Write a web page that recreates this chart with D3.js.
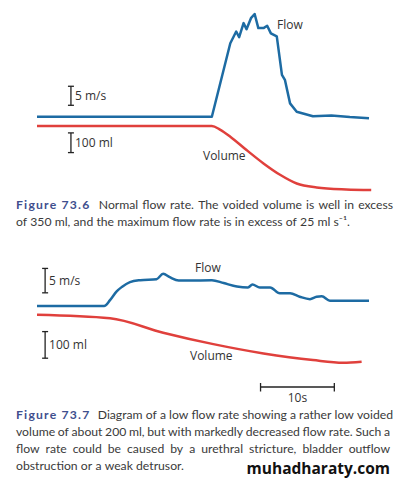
<!DOCTYPE html>
<html>
<head>
<script src="https://d3js.org/d3.v7.min.js"></script>
<style>
  body { margin: 0; background: #fff; }
  text { font-family: "Open Sans", sans-serif; }
</style>
</head>
<body>
<svg width="397" height="481"></svg>
<script>
// ---- data: time in seconds, flow in ml/s, voided volume in ml ----
const flow1T = [0, 23.7, 26.2, 27.0, 27.4, 28.0, 28.4, 29.0, 29.5, 30.0, 30.7, 31.2, 31.7, 32.5, 33.2, 33.6, 34.3, 35.2, 37.4, 39.9, 42.4, 45];
const flow1V = [0, 0, 19.3, 22.4, 20.9, 24.6, 23.0, 25.9, 27.0, 23.3, 23.3, 23.9, 21.9, 21.1, 11.0, 9.7, 3.5, 1.3, 0.1, 0.3, -0.1, -0.4];
const vol1T = [0, 23.7, 24.8, 26.2, 28.4, 30.7, 33.0, 35.2, 37.9, 41.9, 45.3];
const vol1V = [0, 0, 18, 54, 122, 190, 249, 292, 312, 322, 325];

const flow2T = [0, 9.1, 9.9, 10.8, 11.5, 12.6, 14.0, 16.2, 17.1, 18.0, 19.2, 23.7, 25.3, 27.1, 28.6, 29.2, 30.2, 31.6, 32.9, 34.3, 35.6, 37.0, 37.9, 38.6, 39.7, 41.5, 45];
const flow2V = [0, 0, 1.2, 3.0, 3.9, 4.9, 5.3, 5.5, 6.6, 5.9, 5.2, 5.3, 4.7, 4.0, 3.8, 4.4, 3.8, 3.8, 2.6, 2.6, 1.9, 1.4, 1.9, 2.0, 1.1, 1.1, 1.1];
const vol2T = [0, 9.9, 17.1, 23.9, 30.7, 37.4, 41.5, 44.0];
const vol2V = [-13, 0, 54, 97, 132, 157, 167, 163];

const caption1 = [
  "Normal flow rate. The voided volume is well in excess",
  "of 350 ml, and the maximum flow rate is in excess of 25 ml s\u207B\u00B9."
];
const caption2 = [
  "Diagram of a low flow rate showing a rather low voided",
  "volume of about 200 ml, but with markedly decreased flow rate. Such a",
  "flow rate could be caused by a urethral stricture, bladder outflow",
  "obstruction or a weak detrusor."
];

const svg = d3.select('svg');
const blue = '#1d6ba3', red = '#e0403c', ink = '#333';

const x = d3.scaleLinear().domain([0, 45]).range([37, 369]);

// chart 1 scales
const yF1 = d3.scaleLinear().domain([0, 27]).range([116.7, 14]);
const yV1 = d3.scaleLinear().domain([0, 100]).range([126, 145.7]);
// chart 2 scales
const yF2 = d3.scaleLinear().domain([0, 5]).range([306, 281.6]);
const yV2 = d3.scaleLinear().domain([0, 100]).range([318.3, 344.9]);

const drawLine = (ts, vs, yScale, color, curve) => {
  svg.append('path')
    .datum(d3.zip(ts, vs))
    .attr('fill', 'none')
    .attr('stroke', color)
    .attr('stroke-width', 2.5)
    .attr('stroke-linejoin', 'round')
    .attr('d', d3.line().x(d => x(d[0])).y(d => yScale(d[1])).curve(curve));
};

drawLine(flow1T, flow1V, yF1, blue, d3.curveLinear);
drawLine(vol1T, vol1V, yV1, red, d3.curveMonotoneX);
drawLine(flow2T, flow2V, yF2, blue, d3.curveMonotoneX);
drawLine(vol2T, vol2V, yV2, red, d3.curveMonotoneX);

// vertical scale bars
const vBar = (t, y0, y1, label) => {
  const g = svg.append('g').attr('stroke', '#222').attr('stroke-width', 1.3);
  const px = x(t);
  g.append('line').attr('x1', px).attr('x2', px).attr('y1', y0).attr('y2', y1);
  g.append('line').attr('x1', px - 3).attr('x2', px + 3).attr('y1', y0).attr('y2', y0);
  g.append('line').attr('x1', px - 3).attr('x2', px + 3).attr('y1', y1).attr('y2', y1);
  svg.append('text').attr('x', px + 4).attr('y', (y0 + y1) / 2 + 4.5)
    .attr('font-size', 12).attr('fill', ink).text(label);
};
vBar(4.6, yF1(8), yF1(3), '5 m/s');
vBar(4.6, yV1(35), yV1(135), '100 ml');
vBar(1.1, yF2(7.7), yF2(2.7), '5 m/s');
vBar(1.1, yV2(50), yV2(150), '100 ml');

// 10 s time bar
const tb = svg.append('g').attr('stroke', '#222').attr('stroke-width', 1.3);
tb.append('line').attr('x1', x(30.3)).attr('x2', x(40.3)).attr('y1', 387).attr('y2', 387);
tb.append('line').attr('x1', x(30.3)).attr('x2', x(30.3)).attr('y1', 383).attr('y2', 391.5);
tb.append('line').attr('x1', x(40.3)).attr('x2', x(40.3)).attr('y1', 383).attr('y2', 391.5);
svg.append('text').attr('x', x(35.3)).attr('y', 402).attr('text-anchor', 'middle')
  .attr('font-size', 12).attr('fill', ink).text('10s');

// series labels
const label = (px, py, s) => svg.append('text').attr('x', px).attr('y', py)
  .attr('font-size', 12).attr('fill', ink).text(s);
label(277, 29, 'Flow');
label(203, 160, 'Volume');
label(195, 272, 'Flow');
label(190, 360, 'Volume');

// captions, justified word by word
const capFont = 'Lato, "Open Sans", sans-serif';
const justify = (y, words, last, head) => {
  const items = [];
  if (head) items.push({ s: head, bold: true });
  words.split(' ').forEach(w => items.push({ s: w, bold: false }));
  const nodes = items.map(it => {
    const t = svg.append('text').attr('y', y).attr('font-size', 12.2)
      .style('font-family', capFont).text(it.s);
    if (it.bold) t.attr('font-weight', 'bold').attr('fill', '#3f4f8e').attr('letter-spacing', 1.2);
    else t.attr('fill', '#3a3a3a');
    return t;
  });
  const widths = nodes.map(n => n.node().getComputedTextLength() + (+n.attr('letter-spacing') || 0));
  const total = d3.sum(widths);
  let gap = last ? 3.2 : (374 - total) / (nodes.length - 1);
  let cx = 16;
  nodes.forEach((n, i) => {
    n.attr('x', cx);
    cx += widths[i] + gap + (i === 0 && head ? 3 : 0);
  });
};
const cap = (y0, head, lines) => lines.forEach((l, i) =>
  justify(y0 + i * 17, l, i === lines.length - 1, i === 0 ? head : null));
cap(209, 'Figure 73.6', caption1);
cap(419, 'Figure 73.7', caption2);

svg.append('text').attr('x', 390).attr('y', 474).attr('text-anchor', 'end')
  .attr('font-size', 15.5).attr('font-weight', 'bold').attr('fill', '#111')
  .style('font-family', '"Open Sans", sans-serif')
  .text('muhadharaty.com');
</script>
</body>
</html>
